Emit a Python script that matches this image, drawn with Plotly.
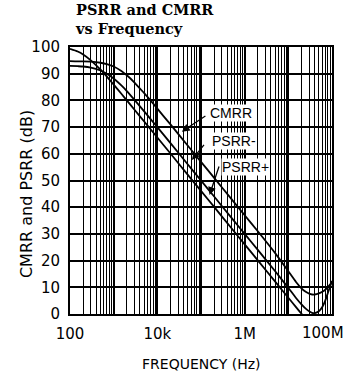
import plotly.graph_objects as go

# ---- data ----
freq_hz = [100, 150, 200, 300, 500, 700, 1e3, 1.5e3, 2e3, 3e3, 5e3, 7e3, 1e4, 2e4, 5e4,
           1e5, 2e5, 5e5, 1e6, 2e6, 5e6, 1e7, 1.5e7, 2e7, 2.5e7, 3e7, 3.5e7, 4e7, 5e7,
           6e7, 7e7, 8e7, 9e7, 1e8]

cmrr_db = [94.7, 94.6, 94.6, 94.5, 94.1, 93.6, 92.7, 91.0, 89.4, 86.7, 82.7, 80.0, 76.9,
           71.0, 63.0, 57.0, 51.0, 43.0, 37.0, 31.0, 22.8, 16.0, 12.0, 9.6, 8.3, 7.6, 7.3,
           7.3, 7.7, 8.3, 9.1, 10.0, 11.0, 12.0]

psrr_minus_db = [92.9, 92.8, 92.7, 92.3, 91.2, 90.0, 88.2, 85.6, 83.5, 80.2, 75.9, 73.0,
                 70.0, 64.0, 56.0, 50.0, 44.0, 36.0, 30.0, 24.0, 16.0, 9.8, 6.0, 3.6, 2.0,
                 1.0, 0.4, 0.3, 1.0, 2.6, 5.0, 7.8, 10.2, 12.4]

psrr_plus_db = [99.3, 98.3, 97.2, 95.0, 91.5, 88.9, 85.9, 82.5, 80.0, 76.5, 72.1, 69.2,
                66.1, 60.1, 52.1, 46.1, 40.1, 32.1, 26.1, 20.1, 12.1, 6.1, 2.6, 0.1, -1.9,
                -3.4, None, None, None, None, None, None, None, None]

x_tick_vals = [1e2, 1e3, 1e4, 1e5, 1e6, 1e7, 1e8]
x_tick_text = ["100", "", "10k", "", "1M", "", ""]
x_last_label = "100M"   # drawn right-aligned at the figure edge so it is not cut off
y_tick_vals = [0, 10, 20, 30, 40, 50, 60, 70, 80, 90, 100]

title_text = "<b>PSRR and CMRR<br>vs Frequency</b>"
x_title = "FREQUENCY (Hz)"
y_title = "CMRR and PSRR (dB)"

# minor log grid positions (2..9 in each decade)
minor_vals = [m * 10 ** d for d in range(2, 8) for m in range(2, 10)]

fig = go.Figure()
line_style = dict(color="black", width=1.8)
for name, vals in [("CMRR", cmrr_db), ("PSRR-", psrr_minus_db), ("PSRR+", psrr_plus_db)]:
    fig.add_trace(go.Scatter(x=freq_hz, y=vals, mode="lines", name=name,
                             line=dict(**line_style, shape="spline", smoothing=0.6),
                             connectgaps=False, showlegend=False, hoverinfo="skip"))

sans = "DejaVu Sans"
fig.update_layout(
    width=345, height=379,
    margin=dict(l=70, r=13, t=47, b=65, autoexpand=False),
    paper_bgcolor="white", plot_bgcolor="white",
    xaxis=dict(type="log", range=[2, 8], tickmode="array", tickvals=x_tick_vals,
               ticktext=x_tick_text, showgrid=True, gridcolor="black", gridwidth=2,
               showline=True, linecolor="black", linewidth=2, mirror=True, ticks="",
               ticklabelstandoff=5, automargin=False, ticklabeloverflow="allow",
               tickfont=dict(family=sans, size=15, color="black"),
               minor=dict(tickmode="array", tickvals=minor_vals, showgrid=True,
                          gridcolor="black", gridwidth=1, ticks=""),
               zeroline=False),
    yaxis=dict(range=[0, 100], tickmode="array", tickvals=y_tick_vals,
               showgrid=True, gridcolor="black", gridwidth=2,
               showline=True, linecolor="black", linewidth=2, mirror=True, ticks="",
               ticklabelstandoff=5, automargin=False, ticklabeloverflow="allow",
               tickfont=dict(family=sans, size=15, color="black"), zeroline=False),
    annotations=[
        dict(text=title_text, xref="paper", yref="paper", x=0.011, y=1.03,
             xanchor="left", yanchor="bottom", align="left", showarrow=False,
             font=dict(family="DejaVu Serif", size=14.5, color="black")),
        dict(text=x_last_label, xref="paper", yref="paper", x=1.049, y=-0.0712,
             xanchor="right", yanchor="middle", showarrow=False, borderpad=0,
             font=dict(family=sans, size=15, color="black")),
        dict(text=x_title, xref="paper", yref="paper", x=0.5, y=-0.187,
             xanchor="center", yanchor="middle",
             showarrow=False, font=dict(family=sans, size=14, color="black")),
        dict(text=y_title, xref="paper", yref="paper", x=-0.168, y=0.449,
             xanchor="center", yanchor="middle",
             textangle=-90, showarrow=False, font=dict(family=sans, size=16, color="black")),
        # arrows
        dict(x=4.562, y=68.3, ax=5.135, ay=74.5, xref="x", yref="y", axref="x", ayref="y",
             text="", showarrow=True, arrowhead=2, arrowsize=1.2, arrowwidth=1.3,
             arrowcolor="black"),
        dict(x=4.791, y=57.7, ax=5.096, ay=63.9, xref="x", yref="y", axref="x", ayref="y",
             text="", showarrow=True, arrowhead=2, arrowsize=1.2, arrowwidth=1.3,
             arrowcolor="black"),
        dict(x=5.195, y=44.6, ax=5.424, ay=55.8, xref="x", yref="y", axref="x", ayref="y",
             text="", showarrow=True, arrowhead=2, arrowsize=1.2, arrowwidth=1.3,
             arrowcolor="black"),
        # labels
        dict(x=5.681, y=75.2, xref="x", yref="y", text="CMRR", showarrow=False,
             bgcolor="white", borderpad=0,
             font=dict(family="Liberation Sans", size=14, color="black")),
        dict(x=5.75, y=64.9, xref="x", yref="y", text="PSRR-", showarrow=False,
             bgcolor="white", borderpad=0,
             font=dict(family="Liberation Sans", size=14, color="black")),
        dict(x=6.025, y=55.2, xref="x", yref="y", text="PSRR+", showarrow=False,
             bgcolor="white", borderpad=0,
             font=dict(family="Liberation Sans", size=14, color="black")),
    ],
)

fig.write_html("out.html", config={"displayModeBar": False},
               post_script="document.body.style.margin='0px';")
